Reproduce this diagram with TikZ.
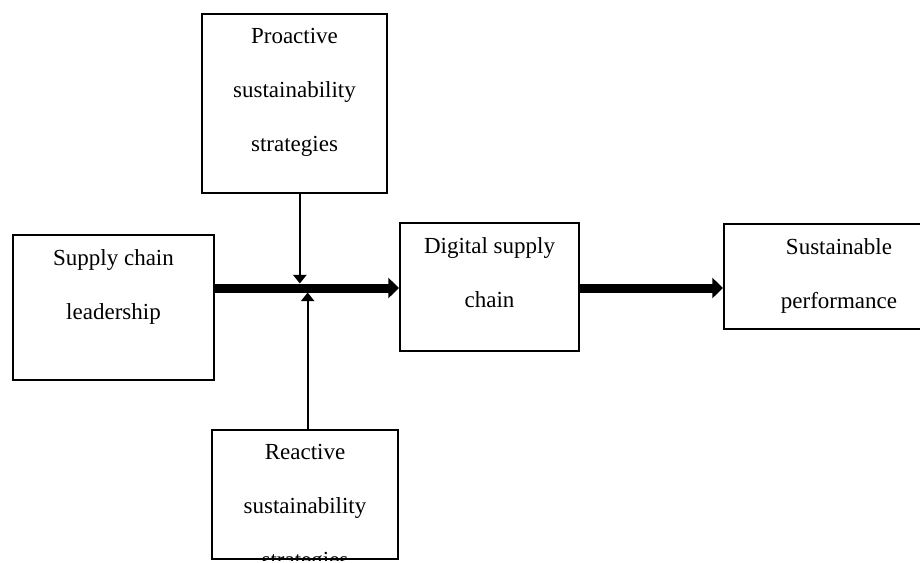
\documentclass[tikz,border=0pt]{standalone}
\usepackage{fontspec}
\setmainfont{Liberation Serif}
\usetikzlibrary{arrows.meta}

\tikzset{every picture/.style={line width=0.75pt}}
\tikzset{
  blk/.style={draw, line width=1.5, anchor=north west, inner sep=0pt},
  txt/.style={anchor=north, align=center, inner sep=0pt, font=\fontsize{17.25}{40.5}\selectfont},
  link/.style={line width=1.5, shorten >=3.4pt, -{Triangle[length=6.5pt,width=10pt]}},
  flow/.style={line width=6.75, -{Triangle[length=8pt,width=15pt]}},
}

\begin{document}
\begin{tikzpicture}[x=0.75pt,y=0.75pt,yscale=-1,xscale=1]

\path[use as bounding box] (0,0) rectangle (920,562);
\clip (0,0) rectangle (920,562);

% boxes
\node[blk, minimum width=138.75pt, minimum height=134.25pt] (pro) at (201,13) {};
\node[blk, minimum width=150.75pt, minimum height=108.75pt] (sup) at (12,234) {};
\node[blk, minimum width=134.25pt, minimum height=96pt] (dig) at (399,222) {};
\node[blk, minimum width=172.5pt, minimum height=78.75pt] (perf) at (723,223) {};
\node[blk, minimum width=139.5pt, minimum height=96.75pt] (rea) at (211,429) {};

% texts (yscale=-1, so a positive yshift moves down)
\node[txt] (proT) at ([yshift=11pt]pro.north) {Proactive\\sustainability\\strategies};
\node[txt] (supT) at ([yshift=11pt]sup.north) {Supply chain\\leadership};
\node[txt] (digT) at ([yshift=11pt]dig.north) {Digital supply\\chain};
\node[txt] (perfT) at ([yshift=11pt]perf.north) {Sustainable\\performance};
\begin{scope}
  \clip (rea.north west) rectangle (rea.south east);
  \node[txt] (reaT) at ([yshift=11pt]rea.north) {Reactive\\sustainability\\strategies};
\end{scope}

% arrows
\coordinate (hub) at (303,288);
\draw[flow] (sup.east |- hub) -- (dig.west |- hub);
\draw[flow] (dig.east |- hub) -- (perf.west |- hub);
\draw[link] ([xshift=4pt]pro.south) -- ([xshift=4pt]pro.south |- hub);
\draw[link] ([xshift=2pt]rea.north) -- ([xshift=2pt]rea.north |- hub);

\end{tikzpicture}
\end{document}
